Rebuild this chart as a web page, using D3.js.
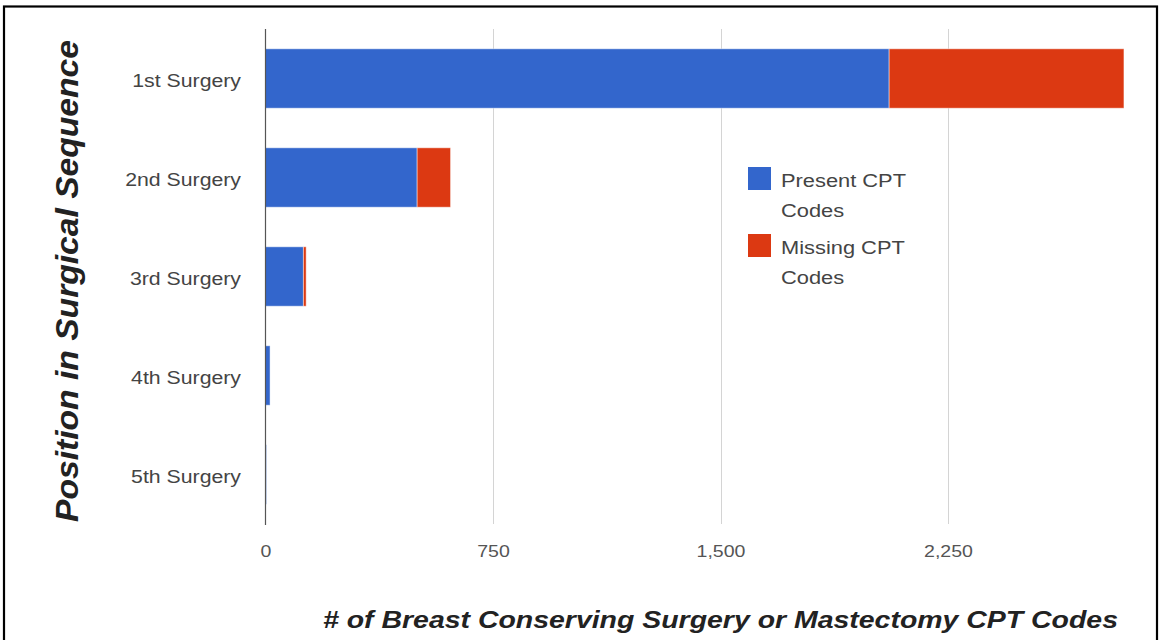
<!DOCTYPE html>
<html>
<head>
<meta charset="utf-8">
<script src="https://cdn.jsdelivr.net/npm/d3@7"></script>
<style>
  html, body { margin: 0; padding: 0; background: #fff; }
  svg { display: block; font-family: "Liberation Sans", Arial, sans-serif; }
</style>
</head>
<body>
<svg id="chart" width="1161" height="640"></svg>
<script>
// Surgical sequence positions and CPT code counts
const categories = ["1st Surgery", "2nd Surgery", "3rd Surgery", "4th Surgery", "5th Surgery"];
const presentCodes = [2056, 500, 125, 15, 3];
const missingCodes = [774, 110, 9, 0, 0];
const tickValues = [0, 750, 1500, 2250];
const seriesNames = ["Present CPT Codes", "Missing CPT Codes"];
const seriesColors = ["#3366cc", "#dc3912"];

const svg = d3.select("#chart");
const plotLeft = 265.5, plotTop = 29, plotBottom = 524;
const stretch = 1.15; // horizontal glyph stretch used for all labels

// outer frame
svg.append("rect")
  .attr("x", 4).attr("y", 6.5)
  .attr("width", 1153).attr("height", 700)
  .attr("fill", "none").attr("stroke", "#000").attr("stroke-width", 2.2);

const x = d3.scaleLinear().domain([0, 2250]).range([plotLeft, 948]);
const y = d3.scaleBand().domain(categories).range([plotTop, plotBottom])
  .paddingInner(0.4).paddingOuter(0.2);

// vertical gridlines
svg.append("g").selectAll("line")
  .data(tickValues.filter(d => d > 0))
  .join("line")
  .attr("x1", d => Math.round(x(d)) + 0.5).attr("x2", d => Math.round(x(d)) + 0.5)
  .attr("y1", plotTop).attr("y2", plotBottom)
  .attr("stroke", "#d4d4d4").attr("stroke-width", 1);

// stacked bars
const rows = categories.map((c, i) => ({ cat: c, vals: [presentCodes[i], missingCodes[i]] }));
const stackData = rows.map(r => {
  let acc = 0;
  return r.vals.map((v, k) => { const s = { cat: r.cat, k, x0: acc, x1: acc + v }; acc += v; return s; });
}).flat().filter(d => d.x1 > d.x0);

svg.append("g").selectAll("rect")
  .data(stackData)
  .join("rect")
  .attr("x", d => x(d.x0))
  .attr("y", d => y(d.cat))
  .attr("width", d => x(d.x1) - x(d.x0))
  .attr("height", y.bandwidth())
  .attr("fill", d => seriesColors[d.k])
  .attr("stroke", "#fff").attr("stroke-opacity", 0.45).attr("stroke-width", 1);

// baseline axis at zero
svg.append("line")
  .attr("x1", plotLeft).attr("x2", plotLeft)
  .attr("y1", plotTop).attr("y2", plotBottom + 1)
  .attr("stroke", "#555").attr("stroke-width", 1.2);

// x axis tick labels
const xAxis = d3.axisBottom(x).tickValues(tickValues).tickFormat(d3.format(",")).tickSize(0);
const gx = svg.append("g").attr("transform", `translate(0,${plotBottom})`).call(xAxis);
gx.select(".domain").remove();
gx.selectAll("text")
  .attr("y", 0).attr("dy", null)
  .attr("transform", `translate(0,33) scale(${stretch},1)`)
  .attr("font-size", 17).attr("font-family", "Liberation Sans, Arial, sans-serif")
  .attr("fill", "#555");

// y axis category labels
const yAxis = d3.axisLeft(y).tickSize(0);
const gy = svg.append("g").attr("transform", `translate(241,0)`).call(yAxis);
gy.select(".domain").remove();
gy.selectAll("text")
  .attr("x", 0).attr("dy", null)
  .attr("transform", `translate(0,8) scale(${stretch},1)`)
  .attr("font-size", 18.5).attr("font-family", "Liberation Sans, Arial, sans-serif")
  .attr("fill", "#444");

// legend
const legendLines = [["Present CPT", "Codes"], ["Missing CPT", "Codes"]];
const legend = svg.append("g");
legendLines.forEach((lines, i) => {
  const y0 = 167 + i * 67;
  legend.append("rect")
    .attr("x", 748).attr("y", y0).attr("width", 23).attr("height", 23)
    .attr("fill", seriesColors[i]);
  lines.forEach((t, j) => {
    legend.append("text")
      .attr("transform", `translate(781,${y0 + 20 + j * 30}) scale(${stretch},1)`)
      .attr("font-size", 19).attr("fill", "#444")
      .text(t);
  });
});

// axis titles
svg.append("text")
  .attr("x", 323).attr("y", 628)
  .attr("font-size", 24.5).attr("font-weight", "bold").attr("font-style", "italic")
  .attr("fill", "#222")
  .attr("textLength", 795).attr("lengthAdjust", "spacingAndGlyphs")
  .text("# of Breast Conserving Surgery or Mastectomy CPT Codes");

svg.append("text")
  .attr("transform", "translate(78,522) rotate(-90)")
  .attr("font-size", 31).attr("font-weight", "bold").attr("font-style", "italic")
  .attr("fill", "#222")
  .attr("textLength", 482).attr("lengthAdjust", "spacingAndGlyphs")
  .text("Position in Surgical Sequence");
</script>
</body>
</html>
